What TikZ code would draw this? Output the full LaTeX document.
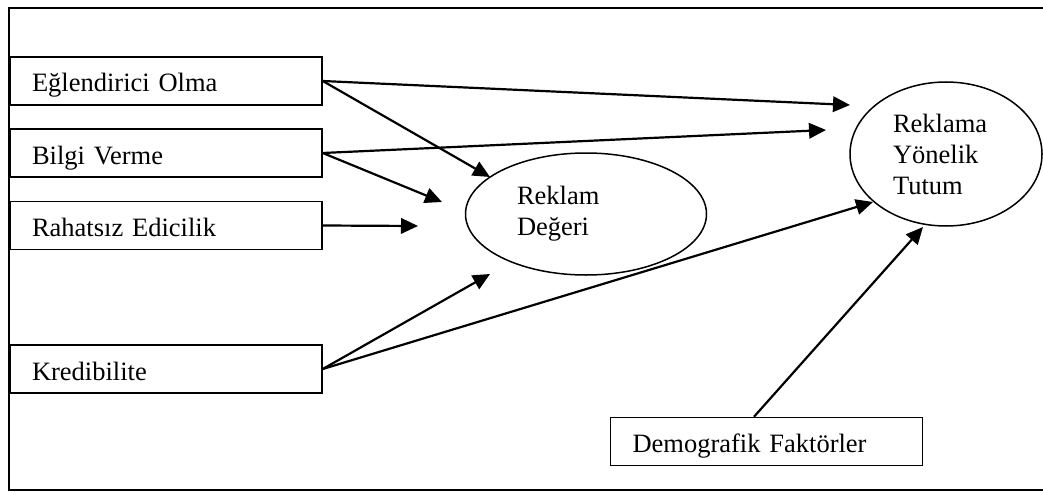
\documentclass[tikz,border=0pt]{standalone}
\usepackage{fontspec}
\setmainfont{Liberation Serif}
\usetikzlibrary{arrows.meta,shapes.geometric,calc}

\tikzset{
  factor/.style={draw, line width=1.5pt, rectangle, minimum width=312pt, minimum height=48pt,
    text width=268pt, inner xsep=22pt, align=left, text height=26pt, text depth=4pt,
    font=\fontsize{26.5}{30}\selectfont},
  construct/.style={draw, line width=1.5pt, ellipse, inner sep=0pt, align=left,
    font=\fontsize{26.5}{31}\selectfont},
  link/.style={line width=2.2pt, -{Triangle[length=17pt,width=15.5pt]}},
  frame/.style={line width=2pt}
}

\begin{document}
\begin{tikzpicture}[x=1pt, y=-1pt]
  \useasboundingbox (0,0) rectangle (1043,492);

  % outer frame (open on the right)
  \draw[frame] (1043,8) -- (9,8) -- (9,490) -- (1043,490);

  % antecedent factors
  \node[factor] (eo) at (166,81)    {Eğlendirici Olma};
  \node[factor] (bv) at (166,153)   {Bilgi Verme};
  \node[factor] (re) at (166,225.5) {Rahatsız Edicilik};
  \node[factor] (kr) at (166,369)   {Kredibilite};
  \node[factor] (df) at (766.5,441.5) {Demografik Faktörler};

  % mediating and outcome constructs
  \node[construct, minimum width=241pt, minimum height=122pt, text width=138pt]
    (rd) at (586,214) {Reklam\\Değeri};
  \node[construct, minimum width=192pt, minimum height=144pt, text width=106pt]
    (rt) at (946,154) {Reklama\\Yönelik\\Tutum};

  % arrow end points
  \coordinate (t1) at (850,105);
  \coordinate (t2) at (826,130);
  \coordinate (t3) at (873,202);
  \coordinate (t4) at (923,227);
  \coordinate (r1) at (490,177);
  \coordinate (r2) at (442,202);
  \coordinate (r3) at (418,226);
  \coordinate (r4) at (490,274);
  \coordinate (dfs) at ([xshift=-12.5pt]df.north);

  % relations
  \draw[link] (eo.east) -- (t1);
  \draw[link] (eo.east) -- (r1);
  \draw[link] (bv.east) -- (t2);
  \draw[link] (bv.east) -- (r2);
  \draw[link] (re.east) -- (r3);
  \draw[link] (kr.east) -- (r4);
  \draw[link] (kr.east) -- (t3);
  \draw[link] (dfs) -- (t4);
\end{tikzpicture}
\end{document}
